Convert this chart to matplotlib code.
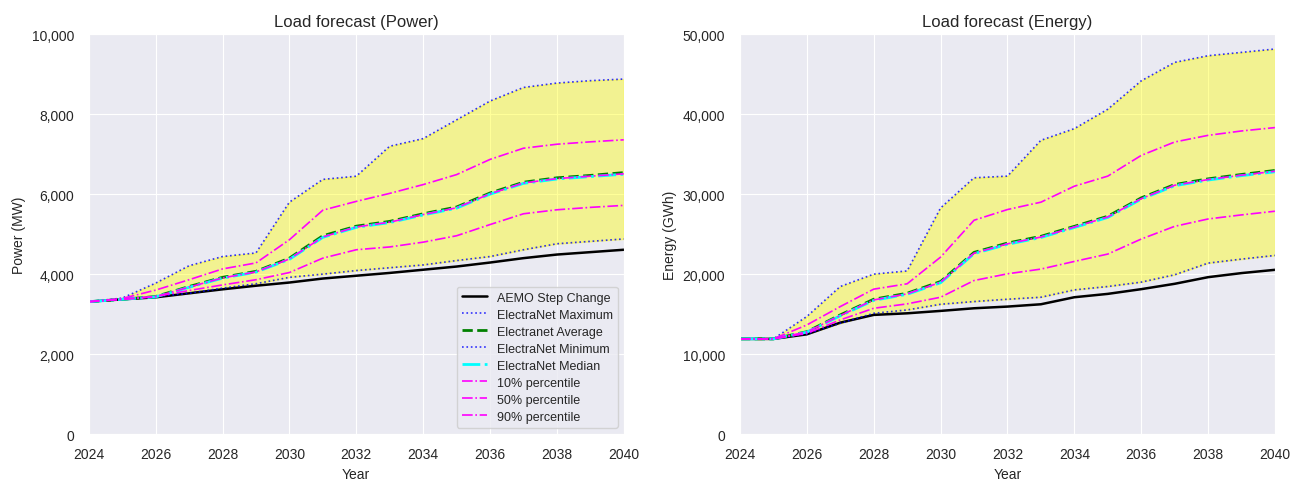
import numpy as np
import matplotlib
matplotlib.use('Agg')
import matplotlib.pyplot as plt
import matplotlib.ticker as mticker
import seaborn as sns

sns.set_style('darkgrid')
plt.rcParams['font.family'] = ['Liberation Sans', 'DejaVu Sans']

years = list(range(2024, 2041))

# Power (MW)
p_aemo = [3310, 3370, 3420, 3520, 3620, 3710, 3790, 3890, 3960, 4030, 4110, 4190, 4290, 4400, 4490, 4550, 4610]
p_max = [3310, 3400, 3775, 4210, 4440, 4530, 5800, 6370, 6450, 7200, 7390, 7860, 8330, 8670, 8780, 8840, 8880]
p_avg = [3310, 3370, 3440, 3690, 3920, 4070, 4400, 4960, 5200, 5320, 5510, 5680, 6030, 6300, 6410, 6470, 6540]
p_min = [3310, 3370, 3440, 3520, 3650, 3760, 3920, 4000, 4090, 4160, 4230, 4340, 4440, 4610, 4760, 4820, 4880]
p_med = [3310, 3370, 3430, 3670, 3900, 4050, 4370, 4920, 5170, 5290, 5480, 5650, 6000, 6270, 6380, 6440, 6500]
p_p10 = [3310, 3370, 3440, 3590, 3730, 3860, 4040, 4400, 4610, 4680, 4800, 4960, 5240, 5510, 5610, 5670, 5720]
p_p50 = [3310, 3370, 3435, 3675, 3905, 4055, 4380, 4930, 5180, 5300, 5490, 5660, 6010, 6280, 6390, 6450, 6510]
p_p90 = [3310, 3390, 3600, 3860, 4130, 4280, 4860, 5600, 5820, 6020, 6240, 6490, 6870, 7150, 7250, 7310, 7360]

# Energy (GWh)
e_aemo = [11900, 11900, 12470, 13930, 14900, 15100, 15400, 15730, 15940, 16230, 17110, 17530, 18120, 18790, 19620, 20130, 20540]
e_max = [11900, 11900, 14700, 18450, 20000, 20400, 28280, 32050, 32260, 36740, 38200, 40630, 44180, 46490, 47320, 47740, 48160]
e_avg = [11900, 11900, 12800, 14900, 16860, 17610, 19080, 22720, 23890, 24730, 25980, 27240, 29540, 31210, 31920, 32470, 32970]
e_min = [11900, 11900, 12510, 13850, 15100, 15520, 16230, 16570, 16860, 17110, 18030, 18450, 19000, 19920, 21380, 21880, 22340]
e_med = [11900, 11900, 12750, 14780, 16720, 17480, 18920, 22560, 23730, 24580, 25830, 27090, 29380, 31060, 31770, 32320, 32800]
e_p10 = [11900, 11900, 12590, 14270, 15730, 16280, 17110, 19200, 20040, 20630, 21590, 22510, 24390, 25980, 26900, 27410, 27870]
e_p50 = [11900, 11900, 12770, 14820, 16770, 17530, 18980, 22620, 23790, 24640, 25890, 27150, 29440, 31120, 31830, 32380, 32870]
e_p90 = [11900, 11900, 13640, 15940, 18120, 18790, 22130, 26740, 28080, 29000, 31000, 32260, 34850, 36530, 37360, 37910, 38330]

fig = plt.figure(figsize=(13.05, 4.81), dpi=100)
ax1 = fig.add_axes([0.068, 0.0956, 0.410, 0.831])
ax2 = fig.add_axes([0.567, 0.0956, 0.410, 0.831])


def draw(ax, aemo, mx, avg, mn, med, p10, p50, p90):
    ax.fill_between(years, mn, mx, color='yellow', alpha=0.4)
    ax.plot(years, aemo, color='black', lw=1.8, label='AEMO Step Change')
    ax.plot(years, mx, color='blue', ls=':', lw=1.2, alpha=0.8, label='ElectraNet Maximum')
    ax.plot(years, avg, color='green', ls='--', lw=2, label='Electranet Average')
    ax.plot(years, mn, color='blue', ls=':', lw=1.2, alpha=0.8, label='ElectraNet Minimum')
    ax.plot(years, med, color='cyan', ls='-.', lw=2, label='ElectraNet Median')
    ax.plot(years, p10, color='magenta', ls='-.', lw=1.2, label='10% percentile')
    ax.plot(years, p50, color='magenta', ls='-.', lw=1.2, label='50% percentile')
    ax.plot(years, p90, color='magenta', ls='-.', lw=1.2, label='90% percentile')
    ax.set_xlim(2024, 2040)
    ax.set_xticks(range(2024, 2041, 2))
    ax.yaxis.set_major_formatter(mticker.FuncFormatter(lambda v, p: f'{v:,.0f}'))
    ax.tick_params(axis='y', pad=7)
    ax.tick_params(axis='x', pad=6)
    ax.set_xlabel('Year')


draw(ax1, p_aemo, p_max, p_avg, p_min, p_med, p_p10, p_p50, p_p90)
ax1.set_ylim(0, 10000)
ax1.set_ylabel('Power (MW)')
ax1.set_title('Load forecast (Power)', fontsize=12)
ax1.legend(loc='lower right', fontsize=9, labelspacing=0.4)

draw(ax2, e_aemo, e_max, e_avg, e_min, e_med, e_p10, e_p50, e_p90)
ax2.set_ylim(0, 50000)
ax2.set_ylabel('Energy (GWh)')
ax2.set_title('Load forecast (Energy)', fontsize=12)

fig.savefig('out.png', dpi=100)
